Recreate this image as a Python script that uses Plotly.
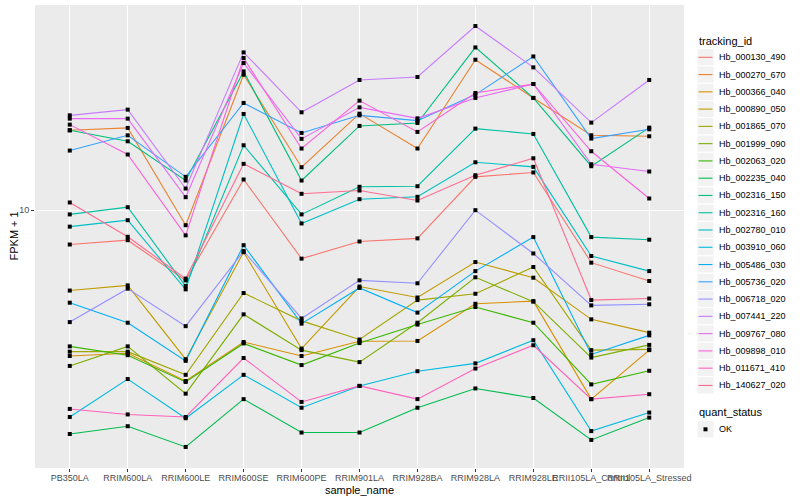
import plotly.graph_objects as go
import numpy as np

samples = ["PB350LA", "RRIM600LA", "RRIM600LE", "RRIM600SE", "RRIM600PE", "RRIM901LA",
           "RRIM928BA", "RRIM928LA", "RRIM928LE", "RRII105LA_Control", "RRII105LA_Stressed"]

# FPKM + 1 values per tracking_id
Hb_000130_490 = [7.68, 7.94, 5.83, 12.66, 6.89, 7.86, 8.05, 12.92, 13.36, 6.68, 5.80]
Hb_000270_670 = [18.48, 18.82, 8.91, 28.33, 13.91, 21.00, 16.06, 31.79, 23.70, 17.78, 17.65]
Hb_000366_040 = [3.26, 3.33, 2.69, 3.63, 3.26, 3.65, 3.66, 4.87, 4.97, 2.34, 3.41]
Hb_000890_050 = [5.39, 5.61, 3.18, 7.24, 3.45, 5.56, 5.11, 6.71, 5.95, 4.32, 3.90]
Hb_001865_070 = [3.37, 3.37, 2.82, 5.29, 4.27, 3.70, 5.01, 5.26, 6.46, 3.41, 3.43]
Hb_001999_090 = [3.02, 3.51, 2.44, 4.49, 3.41, 3.11, 4.21, 5.97, 4.95, 3.22, 3.55]
Hb_002063_020 = [3.51, 3.28, 2.67, 3.59, 3.04, 3.60, 4.15, 4.75, 4.21, 2.62, 2.91]
Hb_002235_040 = [1.79, 1.90, 1.62, 2.34, 1.81, 1.81, 2.19, 2.54, 2.36, 1.71, 2.03]
Hb_002316_150 = [18.48, 16.98, 12.56, 29.06, 12.56, 19.11, 19.55, 34.94, 23.70, 14.02, 18.86]
Hb_002316_160 = [9.68, 10.23, 5.58, 16.47, 9.68, 11.97, 12.02, 18.72, 17.97, 8.13, 7.97]
Hb_002780_010 = [8.81, 9.26, 5.44, 20.95, 9.03, 10.88, 11.08, 14.45, 13.95, 7.03, 6.26]
Hb_003910_060 = [2.04, 2.73, 2.02, 2.82, 2.19, 2.59, 2.90, 3.08, 3.68, 1.83, 2.11]
Hb_005486_030 = [4.91, 4.21, 3.14, 7.64, 4.18, 5.50, 4.55, 6.26, 8.13, 3.30, 3.82]
Hb_005736_020 = [15.81, 17.78, 12.92, 22.80, 18.11, 20.73, 19.90, 24.31, 32.60, 17.34, 18.62]
Hb_006718_020 = [4.23, 5.47, 4.10, 7.30, 4.35, 5.83, 5.70, 10.00, 7.17, 4.81, 4.85]
Hb_007441_220 = [20.73, 21.66, 11.81, 33.63, 21.22, 27.21, 27.84, 41.18, 29.97, 19.60, 27.21]
Hb_009767_080 = [20.21, 20.21, 11.05, 30.99, 17.30, 22.04, 20.26, 23.70, 26.38, 14.23, 13.46]
Hb_009898_010 = [19.30, 15.34, 8.24, 32.21, 16.06, 23.21, 18.25, 24.62, 26.38, 15.73, 10.94]
Hb_011671_410 = [2.17, 2.08, 2.04, 3.21, 2.29, 2.59, 2.34, 2.96, 3.54, 2.34, 2.43]
Hb_140627_020 = [10.61, 8.15, 5.91, 14.28, 11.34, 11.63, 10.77, 13.08, 14.90, 5.01, 5.07]

tracking_ids = ["Hb_000130_490", "Hb_000270_670", "Hb_000366_040", "Hb_000890_050",
                "Hb_001865_070", "Hb_001999_090", "Hb_002063_020", "Hb_002235_040",
                "Hb_002316_150", "Hb_002316_160", "Hb_002780_010", "Hb_003910_060",
                "Hb_005486_030", "Hb_005736_020", "Hb_006718_020", "Hb_007441_220",
                "Hb_009767_080", "Hb_009898_010", "Hb_011671_410", "Hb_140627_020"]
series_values = [Hb_000130_490, Hb_000270_670, Hb_000366_040, Hb_000890_050,
                 Hb_001865_070, Hb_001999_090, Hb_002063_020, Hb_002235_040,
                 Hb_002316_150, Hb_002316_160, Hb_002780_010, Hb_003910_060,
                 Hb_005486_030, Hb_005736_020, Hb_006718_020, Hb_007441_220,
                 Hb_009767_080, Hb_009898_010, Hb_011671_410, Hb_140627_020]
colors = ["#F8766D", "#EA8331", "#D89000", "#C09B00", "#A3A500", "#7CAE00", "#39B600",
          "#00BB4E", "#00BF7D", "#00C1A3", "#00BFC4", "#00BAE0", "#00B0F6", "#35A2FF",
          "#9590FF", "#C77CFF", "#E76BF3", "#FA62DB", "#FF62BC", "#FF6C91"]
quant_status = ["OK"]

FONT = "Liberation Sans, Arial, Helvetica, sans-serif"

fig = go.Figure()
for name, vals, col in zip(tracking_ids, series_values, colors):
    fig.add_trace(go.Scatter(x=samples, y=vals, mode="lines", name=name,
                             line=dict(color=col, width=1.1), showlegend=False,
                             hoverinfo="x+y+name"))

all_x = [s for _ in series_values for s in samples]
all_y = [v for vals in series_values for v in vals]
fig.add_trace(go.Scatter(x=all_x, y=all_y, mode="markers", name="OK", showlegend=False,
                         marker=dict(symbol="square", size=4, color="black")))

# ggplot-like log range with 5% expansion
logs = np.log10(np.array(all_y))
lo, hi = logs.min(), logs.max()
pad = 0.05 * (hi - lo)

# plot panel in pixels
L, R, T, B = 35, 684, 5, 468
def px(x):
    return (x - L) / (R - L)
def py(y):
    return (B - y) / (B - T)

shapes = []
annotations = []

# axis titles
annotations.append(dict(text="sample_name", x=0.5, y=py(489.5), xref="paper", yref="paper",
                        showarrow=False, xanchor="center", yanchor="middle",
                        font=dict(family=FONT, size=11, color="black")))
annotations.append(dict(text="FPKM + 1", x=px(13), y=0.5, xref="paper", yref="paper",
                        showarrow=False, textangle=-90, xanchor="center", yanchor="middle",
                        font=dict(family=FONT, size=11, color="black")))

# manual ggplot-style legend
key_x0, key_x1 = 697, 714
text_x = 717
annotations.append(dict(text="tracking_id", x=px(696.5), y=py(40.7), xref="paper", yref="paper",
                        showarrow=False, xanchor="left", yanchor="middle",
                        font=dict(family=FONT, size=11, color="black")))
step = 17.27
for i, (name, col) in enumerate(zip(tracking_ids, colors)):
    yc = 57.3 + step * i
    shapes.append(dict(type="rect", xref="paper", yref="paper",
                       x0=px(key_x0), x1=px(key_x1), y0=py(yc - step / 2), y1=py(yc + step / 2),
                       fillcolor="#F2F2F2", line=dict(color="white", width=1), layer="above"))
    shapes.append(dict(type="line", xref="paper", yref="paper",
                       x0=px(key_x0 + 1.5), x1=px(key_x1 - 1.5), y0=py(yc), y1=py(yc),
                       line=dict(color=col, width=1.1), layer="above"))
    annotations.append(dict(text=name, x=px(text_x), y=py(yc), xref="paper", yref="paper",
                            showarrow=False, xanchor="left", yanchor="middle",
                            font=dict(family=FONT, size=9, color="black")))

annotations.append(dict(text="quant_status", x=px(696.5), y=py(412.3), xref="paper", yref="paper",
                        showarrow=False, xanchor="left", yanchor="middle",
                        font=dict(family=FONT, size=11, color="black")))
for j, q in enumerate(quant_status):
    yc = 429.3 + step * j
    shapes.append(dict(type="rect", xref="paper", yref="paper",
                       x0=px(key_x0), x1=px(key_x1), y0=py(yc - step / 2), y1=py(yc + step / 2),
                       fillcolor="#F2F2F2", line=dict(color="white", width=1), layer="above"))
    shapes.append(dict(type="rect", xref="paper", yref="paper",
                       x0=px(703.5), x1=px(707.5), y0=py(yc - 2), y1=py(yc + 2),
                       fillcolor="black", line=dict(width=0), layer="above"))
    annotations.append(dict(text=q, x=px(text_x), y=py(yc), xref="paper", yref="paper",
                            showarrow=False, xanchor="left", yanchor="middle",
                            font=dict(family=FONT, size=9, color="black")))

fig.update_layout(
    width=800, height=500,
    margin=dict(l=L, r=800 - R, t=T, b=500 - B, pad=0),
    paper_bgcolor="white", plot_bgcolor="#EBEBEB",
    font=dict(family=FONT, size=9, color="#4D4D4D"),
    showlegend=False,
    shapes=shapes, annotations=annotations,
    xaxis=dict(type="category", categoryorder="array", categoryarray=samples,
               range=[-0.6, len(samples) - 0.4], showgrid=True, gridcolor="white", gridwidth=1.1,
               ticks="outside", ticklen=3, tickwidth=1, tickcolor="#333333", tickangle=0,
               ticklabelstandoff=-2,
               tickfont=dict(family=FONT, size=9, color="#4D4D4D"),
               zeroline=False, showline=False, automargin=False),
    yaxis=dict(type="log", range=[lo - pad, hi + pad], tickmode="array", tickvals=[10],
               ticktext=["10"], showgrid=True, gridcolor="white", gridwidth=1.1,
               ticks="outside", ticklen=3, tickwidth=1, tickcolor="#333333",
               tickfont=dict(family=FONT, size=9, color="#4D4D4D"),
               zeroline=False, showline=False, automargin=False),
)

# remove the browser's default page margin so the 800x500 figure fills the window
fig.write_html("out.html", config={"displayModeBar": False},
               post_script="document.body.style.margin='0';document.body.style.overflow='hidden';")
